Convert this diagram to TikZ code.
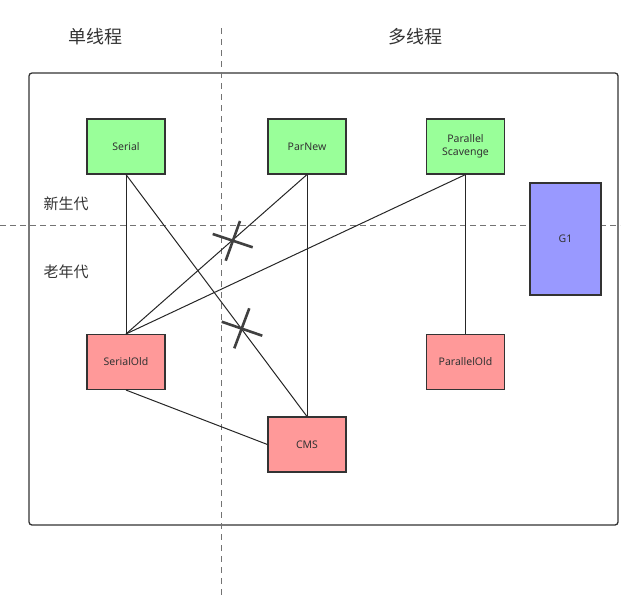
\documentclass[tikz,border=0pt]{standalone}
\usepackage{fontspec}
\setmainfont{Noto Sans}
\newfontfamily\cjk{Noto Sans CJK SC}
\begin{document}
\begin{tikzpicture}[x=1pt,y=-1pt,
  box/.style={draw=black!80,line width=1.1pt,minimum width=78pt,minimum height=55pt,inner sep=1pt,font=\fontsize{10.5}{13}\selectfont,text=black!80,align=center},
  young/.style={box,fill={rgb,255:red,153;green,255;blue,153}},
  old/.style={box,fill={rgb,255:red,255;green,153;blue,153}},
  gone/.style={box,fill={rgb,255:red,153;green,153;blue,255},minimum width=71pt,minimum height=112pt},
  link/.style={draw=black!85,line width=1pt},
  guide/.style={draw=black!55,dash pattern=on 6pt off 4pt,line width=0.8pt},
  vguide/.style={draw=black!55,dash pattern=on 6pt off 5pt,line width=0.8pt},
  cut/.style={draw=black!75,line width=2.6pt},
  lab/.style={font=\cjk\fontsize{15}{18}\selectfont,text=black!80},
  big/.style={font=\cjk\fontsize{18}{21}\selectfont,text=black!80}]
\useasboundingbox (0,0) rectangle (640,611);
\draw[draw=black!80,line width=1.3pt,rounded corners=3pt] (29,73) rectangle (618,525);
\coordinate (vt) at (221.5,28);
\coordinate (vb) at (221.5,595);
\coordinate (hl) at (0,225.5);
\coordinate (hr) at (620,225.5);
\draw[vguide] (vt) -- (vb);
\draw[guide] (hl) -- (hr);
\node[big] (t1) at (95,37) {单线程};
\node[big] (t2) at (415,37) {多线程};
\node[lab] (t3) at (66,204) {新生代};
\node[lab] (t4) at (66,272) {老年代};
\node[young] (serial) at (126,146.5) {Serial};
\node[young] (parnew) at (307,146.5) {ParNew};
\node[young] (ps) at (465.5,146.5) {Parallel\\Scavenge};
\node[gone] (g1) at (565.5,239) {G1};
\node[old] (so) at (126,362) {SerialOld};
\node[old] (cms) at (307,444.5) {CMS};
\node[old] (po) at (465.5,362) {ParallelOld};
\draw[link] (serial.south) -- (so.north);
\draw[link] (serial.south) -- (cms.north);
\draw[link] (parnew.south) -- (so.north);
\draw[link] (parnew.south) -- (cms.north);
\draw[link] (ps.south) -- (so.north);
\draw[link] (ps.south) -- (po.north);
\draw[link] (so.south) -- (cms.west);
\coordinate (a1) at (212.7,234);
\coordinate (a2) at (252.7,247.3);
\coordinate (a3) at (240,221);
\coordinate (a4) at (225.7,260.7);
\draw[cut] (a1) -- (a2);
\draw[cut] (a3) -- (a4);
\coordinate (b1) at (221.7,321.7);
\coordinate (b2) at (262.3,335.7);
\coordinate (b3) at (249.3,308.3);
\coordinate (b4) at (234.3,348.3);
\draw[cut] (b1) -- (b2);
\draw[cut] (b3) -- (b4);
\end{tikzpicture}
\end{document}
